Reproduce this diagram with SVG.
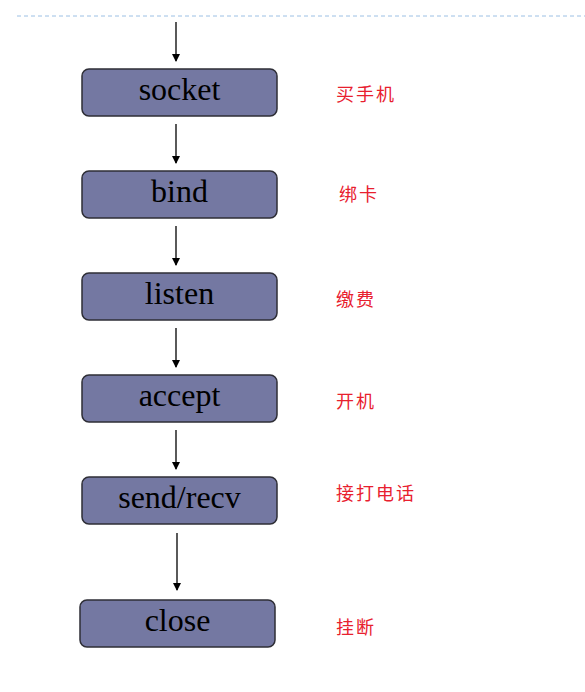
<svg xmlns="http://www.w3.org/2000/svg" width="585" height="692" viewBox="0 0 585 692">
<defs>
<marker id="ah" markerWidth="8" markerHeight="8" refX="7" refY="4" orient="auto" markerUnits="userSpaceOnUse">
<path d="M0,0 L8,4 L0,8 z" fill="#000"/>
</marker>
<style>
.box{fill:#7478a2;stroke:#2e2e36;stroke-width:1.5}
.t{font-family:"Liberation Serif","Times New Roman",serif;font-size:32px;fill:#000;text-anchor:middle}
.c{font-family:"Noto Sans CJK SC",sans-serif;font-size:18px;fill:#e8202e;letter-spacing:2px}
.a{stroke:#000;stroke-width:1.3;fill:none;marker-end:url(#ah)}
</style>
</defs>
<rect width="585" height="692" fill="#fff"/>
<line x1="17" y1="16" x2="585" y2="16" stroke="#9cc0e4" stroke-width="1" stroke-dasharray="4,3"/>
<g id="connectors">
<line class="a" x1="176" y1="22" x2="176" y2="61"/>
<line class="a" x1="176" y1="124" x2="176" y2="163"/>
<line class="a" x1="176" y1="226" x2="176" y2="265"/>
<line class="a" x1="176" y1="328" x2="176" y2="367"/>
<line class="a" x1="176" y1="430" x2="176" y2="469"/>
<line class="a" x1="177" y1="533" x2="177" y2="590"/>
</g>
<g id="socket"><rect class="box" x="82" y="69" width="195" height="47" rx="7"/><text class="t" x="179.5" y="100">socket</text></g>
<g id="bind"><rect class="box" x="82" y="171" width="195" height="47" rx="7"/><text class="t" x="179.5" y="202">bind</text></g>
<g id="listen"><rect class="box" x="82" y="273" width="195" height="47" rx="7"/><text class="t" x="179.5" y="304">listen</text></g>
<g id="accept"><rect class="box" x="82" y="375" width="195" height="47" rx="7"/><text class="t" x="179.5" y="406">accept</text></g>
<g id="sendrecv"><rect class="box" x="82" y="477" width="195" height="47" rx="7"/><text class="t" x="179.5" y="508">send/recv</text></g>
<g id="close"><rect class="box" x="80" y="600" width="195" height="47" rx="7"/><text class="t" x="177.5" y="631">close</text></g>
<g id="labels">
<text class="c" x="336" y="101">买手机</text>
<text class="c" x="339" y="201">绑卡</text>
<text class="c" x="336" y="306">缴费</text>
<text class="c" x="336" y="408">开机</text>
<text class="c" x="336" y="500">接打电话</text>
<text class="c" x="336" y="634">挂断</text>
</g>
</svg>
